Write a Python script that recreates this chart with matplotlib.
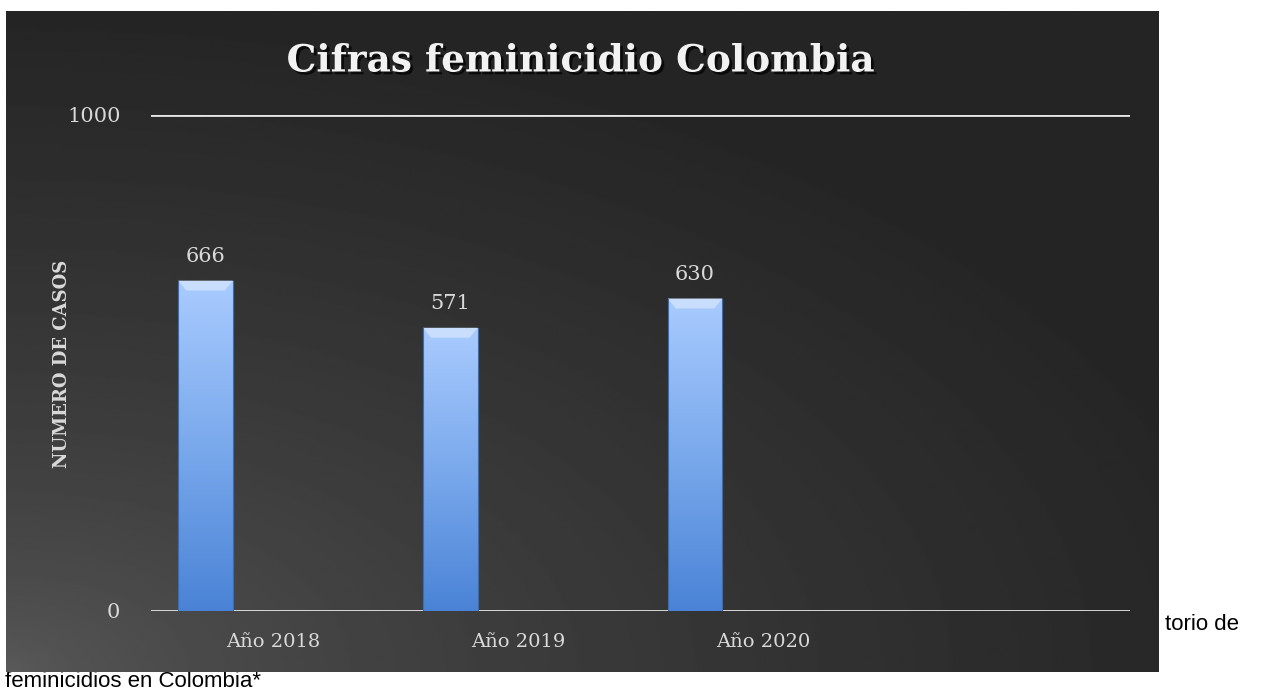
import numpy as np
import matplotlib
matplotlib.use("Agg")
import matplotlib.pyplot as plt
import matplotlib.patheffects as pe
from matplotlib.colors import LinearSegmentedColormap

# data
years = ["Año 2018", "Año 2019", "Año 2020", ""]
cases = [666, 571, 630, None]
title = "Cifras feminicidio Colombia"
ylabel = "NUMERO DE CASOS"

W, H = 1269, 692
fig = plt.figure(figsize=(W / 100, H / 100), dpi=100)
fig.patch.set_facecolor("white")

# loose caption text from the page, partly hidden by the chart
fig.text(1165 / W, 1 - 625 / H, "torio de", fontsize=16, family="Liberation Sans",
         va="center", ha="left", color="black", zorder=-5)
fig.text(5 / W, 1 - 681.5 / H, "feminicidios en Colombia*", fontsize=16,
         family="Liberation Sans", va="center", ha="left", color="black", zorder=-5)

# chart panel with dark gradient background
bg = fig.add_axes([6 / W, 1 - 672 / H, (1159 - 6) / W, (672 - 11) / H], zorder=0)
yy, xx = np.mgrid[0:1:300j, 0:1:500j]
d = np.sqrt(((xx - 0.0) / 1.1) ** 2 + ((yy - 0.0) / 1.0) ** 2)
d = np.clip(d, 0, 1)
shade = 0.36 - 0.215 * d ** 0.6
shade = np.clip(shade, 0.145, 0.4)
bg.imshow(shade, cmap="gray", vmin=0, vmax=1, origin="lower", aspect="auto",
          extent=[0, 1, 0, 1], interpolation="bilinear")
bg.set_axis_off()

ax = fig.add_axes([151 / W, 1 - 611 / H, 979 / W, 496 / H], zorder=1)
ax.patch.set_alpha(0)
x = np.arange(len(years))
vals = [v if v is not None else 0 for v in cases]
bars = ax.bar(x - 0.277, vals, width=0.224, color="none", edgecolor="none", zorder=3)

bar_cmap = LinearSegmentedColormap.from_list("bar", ["#4a83d6", "#7aa9ec", "#a9cbff"])
grad = np.linspace(0, 1, 256).reshape(-1, 1)
for b, v in zip(bars, cases):
    if v is None:
        continue
    x0, w, h = b.get_x(), b.get_width(), b.get_height()
    im = ax.imshow(grad, cmap=bar_cmap, origin="lower", aspect="auto",
                   extent=[x0, x0 + w, 0, h], zorder=3, interpolation="bilinear")
    im.set_clip_path(b)
    # bevel highlight at the top of the bar
    ax.fill([x0, x0 + w, x0 + w * 0.85, x0 + w * 0.15],
            [h, h, h - 20, h - 20], color="#c8defc", zorder=4, lw=0)
    ax.plot([x0, x0], [0, h], color="#3a6cb4", lw=0.8, zorder=4)
    ax.plot([x0 + w, x0 + w], [0, h], color="#3a6cb4", lw=0.8, zorder=4)
    ax.text(x0 + w / 2, h + 30, str(v), ha="center", va="bottom", fontsize=15,
            family="DejaVu Serif", color="#d9d9d9", zorder=5)

ax.set_xlim(-0.5, 3.5)
ax.set_ylim(0, 1000)
ax.set_yticks([0, 1000])
ax.set_yticklabels(["0", "1000"], family="DejaVu Serif", fontsize=15, color="#d9d9d9")
ax.set_xticks(x[:3])
ax.set_xticklabels(years[:3], family="DejaVu Serif", fontsize=14, color="#d9d9d9")
ax.tick_params(axis="both", length=0)
ax.tick_params(axis="y", pad=22)
ax.tick_params(axis="x", pad=16)
for s in ax.spines.values():
    s.set_visible(False)
for yv in [0, 1000]:
    ax.axhline(yv, color="#e6e6e6", lw=2, zorder=2)

fig.text(62 / W, 1 - 364 / H, ylabel, rotation=90, ha="center", va="center",
         family="DejaVu Serif", fontweight="bold", fontsize=13, color="#d9d9d9", zorder=5)

fig.text(580 / W, 1 - 61 / H, title, ha="center", va="center", fontsize=27,
         family="DejaVu Serif", fontweight="bold", color="#f2f2f2", zorder=5,
         path_effects=[pe.withSimplePatchShadow(offset=(2, -2), shadow_rgbFace="black",
                                                alpha=0.7)])

fig.savefig("out.png", dpi=100, facecolor=fig.get_facecolor())
